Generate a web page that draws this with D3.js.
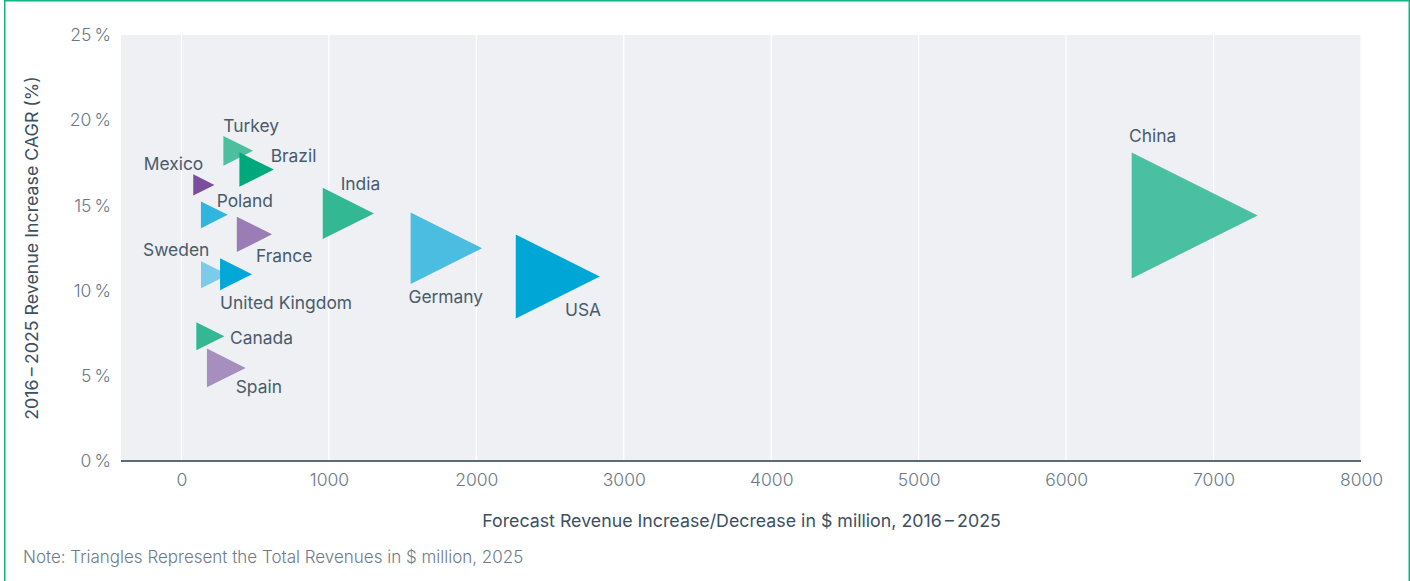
<!DOCTYPE html>
<html>
<head>
<meta charset="utf-8">
<script src="https://cdn.jsdelivr.net/npm/d3@7/dist/d3.min.js"></script>
<style>
  html, body { margin: 0; padding: 0; background: #ffffff; }
  svg { display: block; }
  text { font-family: Inter, "Open Sans", "Noto Sans", sans-serif; }
</style>
</head>
<body>
<svg id="chart" width="1410" height="581"></svg>
<script>
// Countries, in drawing order (later ones sit on top)
const countries = ["Mexico", "Turkey", "Brazil", "Poland", "France", "Sweden",
  "United Kingdom", "Canada", "Spain", "India", "Germany", "USA", "China"];
// Forecast revenue increase/decrease 2016–2025, $ million
const revenueIncrease = [152, 385, 510, 223, 495, 225, 370, 196, 304, 1132, 1797, 2552, 6872];
// 2016–2025 revenue increase CAGR, %
const cagr = [16.2, 18.2, 17.1, 14.45, 13.3, 10.93, 10.96, 7.32, 5.46, 14.53, 12.49, 10.83, 14.41];
// Total revenues 2025, $ million (triangle size)
const totalRevenue2025 = [255, 500, 675, 405, 705, 420, 575, 445, 850, 1490, 2900, 4000, 9000];
const colors = ["#7a4e9d", "#4cbf9f", "#00a97b", "#2fb6de", "#9a7db5", "#7bcbea",
  "#00a7d7", "#33b894", "#a68ebf", "#33b894", "#4abde0", "#00a7d6", "#4bbfa2"];

const xTicks = [0, 1000, 2000, 3000, 4000, 5000, 6000, 7000, 8000];
const yTicks = [0, 5, 10, 15, 20, 25];

// Label placement relative to each triangle's centre: [dx, dy, anchor]
const labelPlacement = {
  "Mexico": [-0.6, -21.7, "end"],
  "Turkey": [-15, -25.4, "start"],
  "Brazil": [14, -13.8, "start"],
  "Poland": [2.3, -14, "start"],
  "France": [1.6, 20.8, "start"],
  "Sweden": [-5.3, -25.4, "end"],
  "United Kingdom": [-16, 28.5, "start"],
  "Canada": [19.7, 1, "start"],
  "Spain": [9.4, 18.8, "start"],
  "India": [-7.7, -30, "start"],
  "Germany": [-38, 48.5, "start"],
  "USA": [7.3, 32.8, "start"],
  "China": [-65.7, -79.5, "start"]
};

const svg = d3.select("#chart");
const W = 1410, H = 581;
const plot = { left: 121, right: 1361, top: 35, bottom: 461 };

// Outer frame
svg.append("path")
  .attr("d", `M4.75,${H + 5} V0.75 H1409.25 V${H + 5}`)
  .attr("fill", "none")
  .attr("stroke", "#14b382")
  .attr("stroke-width", 1.5);

const x = d3.scaleLinear().domain([-410, 8000]).range([plot.left, plot.right]);
const y = d3.scaleLinear().domain([0, 25]).range([plot.bottom, plot.top]);
const size = d3.scaleSqrt().domain([0, 9000]).range([0, 126]);

// Plot background
svg.append("rect")
  .attr("x", plot.left).attr("y", plot.top)
  .attr("width", plot.right - plot.left).attr("height", plot.bottom - plot.top)
  .attr("fill", "#eef0f4");

// Vertical grid lines
svg.append("g")
  .selectAll("line")
  .data(xTicks)
  .join("line")
  .attr("x1", d => x(d)).attr("x2", d => x(d))
  .attr("y1", plot.top).attr("y2", plot.bottom)
  .attr("stroke", "#ffffff")
  .attr("stroke-width", 1.2);

// X axis
const xAxis = svg.append("g")
  .attr("transform", `translate(0,${plot.bottom})`)
  .call(d3.axisBottom(x).tickValues(xTicks).tickFormat(d3.format("d")).tickSize(0).tickPadding(13));
xAxis.select(".domain").attr("stroke", "#5a6b7a").attr("stroke-width", 2)
  .attr("d", `M${plot.left},0H${plot.right}`);
xAxis.selectAll("text")
  .attr("font-size", 17.5).attr("font-weight", 300).attr("fill", "#6a7885")
  .attr("font-family", "Inter, sans-serif");

// Y axis
const yAxis = svg.append("g")
  .attr("transform", `translate(${plot.left},0)`)
  .call(d3.axisLeft(y).tickValues(yTicks).tickFormat(d => d + "\u2009%").tickSize(0).tickPadding(10));
yAxis.select(".domain").remove();
yAxis.selectAll("text")
  .attr("font-size", 17.5).attr("font-weight", 300).attr("fill", "#6a7885")
  .attr("font-family", "Inter, sans-serif");

// Triangles
const points = countries.map((c, i) => ({
  name: c, x: revenueIncrease[i], y: cagr[i], rev: totalRevenue2025[i], color: colors[i]
}));

svg.append("g")
  .selectAll("path")
  .data(points)
  .join("path")
  .attr("transform", d => `translate(${x(d.x)},${y(d.y)})`)
  .attr("d", d => {
    const s = size(d.rev) / 2;
    return `M${-s},${-s}L${s},0L${-s},${s}Z`;
  })
  .attr("fill", d => d.color);

// Country labels
svg.append("g")
  .selectAll("text")
  .data(points)
  .join("text")
  .attr("x", d => x(d.x) + labelPlacement[d.name][0])
  .attr("y", d => y(d.y) + labelPlacement[d.name][1])
  .attr("text-anchor", d => labelPlacement[d.name][2])
  .attr("dominant-baseline", "central")
  .attr("font-size", 17.4)
  .attr("fill", "#4a5b6b")
  .text(d => d.name);

// Axis titles
svg.append("text")
  .attr("x", 741.5)
  .attr("y", 520)
  .attr("text-anchor", "middle")
  .attr("dominant-baseline", "central")
  .attr("font-size", 17.8)
  .attr("fill", "#3d5062")
  .text("Forecast Revenue Increase/Decrease in $ million, 2016\u2009\u2013\u20092025");

svg.append("text")
  .attr("transform", "translate(31,248) rotate(-90)")
  .attr("text-anchor", "middle")
  .attr("dominant-baseline", "central")
  .attr("font-size", 17.8)
  .attr("fill", "#3d5062")
  .text("2016\u2009\u2013\u20092025 Revenue Increase CAGR (%)");

// Note
svg.append("text")
  .attr("x", 23)
  .attr("y", 557)
  .attr("dominant-baseline", "central")
  .attr("font-size", 17)
  .attr("font-weight", 300)
  .attr("fill", "#6f7b87")
  .text("Note: Triangles Represent the Total Revenues in $ million, 2025");
</script>
</body>
</html>
